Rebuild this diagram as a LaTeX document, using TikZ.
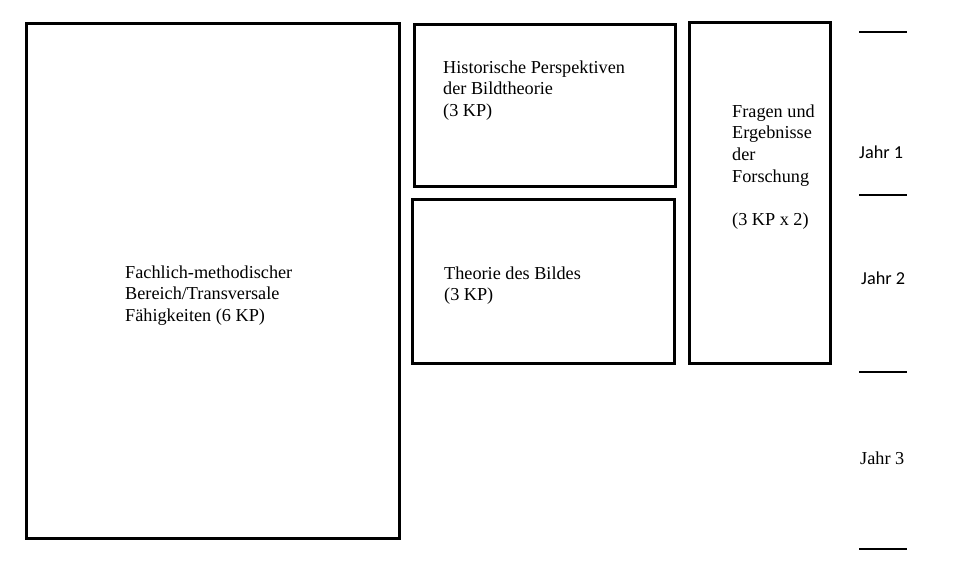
\documentclass[tikz,border=0pt]{standalone}
\usepackage{fontspec}
\setmainfont{Liberation Serif}
\newfontfamily\calibri{Carlito}
\begin{document}
\begin{tikzpicture}[x=1bp,y=-1bp,
  modul/.style={draw,rectangle,line width=3bp,inner sep=0pt},
  beschr/.style={anchor=base west,inner sep=0pt,align=left,font=\fontsize{18.3}{21.7}\selectfont},
  jahr/.style={anchor=base west,inner sep=0pt,font=\fontsize{18.3}{21}\selectfont}]
  \useasboundingbox (0,0) rectangle (960,568);
  %% Module
  \node (Fach) at (213,281) [modul,minimum width=373bp,minimum height=515bp] {};
  \node (Hist) at (545,105.5) [modul,minimum width=261bp,minimum height=162bp] {};
  \node (Theo) at (543.5,281.5) [modul,minimum width=262bp,minimum height=164bp] {};
  \node (Frag) at (760,193) [modul,minimum width=141bp,minimum height=341bp] {};
  %% Texte (Anker: Grundlinie der letzten Zeile)
  \node (FachText) at (125,321.4) [beschr] {Fachlich-methodischer\\Bereich/Transversale\\Fähigkeiten (6 KP)};
  \node (HistText) at (443,116.4) [beschr] {Historische Perspektiven\\der Bildtheorie\\(3 KP)};
  \node (TheoText) at (444,300.7) [beschr] {Theorie des Bildes\\(3 KP)};
  \node (FragText) at (732,225.5) [beschr] {Fragen und\\Ergebnisse\\der\\Forschung\\[21.7bp](3 KP x 2)};
  %% Jahre
  \foreach \y in {32,195,372,549}
    \draw [line width=1.5bp] (859,\y) -- (907,\y);
  \node (J1) at (859,159) [jahr,font=\calibri\fontsize{18.3}{21}\selectfont] {Jahr 1};
  \node (J2) at (861,285) [jahr,font=\calibri\fontsize{18.3}{21}\selectfont] {Jahr 2};
  \node (J3) at (860,464) [jahr] {Jahr 3};
\end{tikzpicture}
\end{document}
